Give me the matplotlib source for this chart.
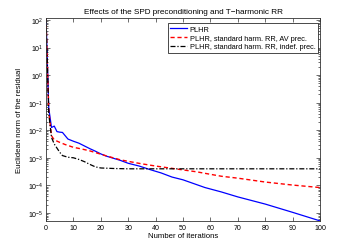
import numpy as np
import matplotlib
matplotlib.use("Agg")
import matplotlib.pyplot as plt
from matplotlib.ticker import LogLocator, FixedLocator, NullFormatter

plt.rcParams['font.family'] = ['Liberation Sans', 'DejaVu Sans']
plt.rcParams['mathtext.fontset'] = 'custom'
plt.rcParams['mathtext.rm'] = 'Liberation Sans'

# iterations and log10 of residual norm
it_blue = [0, 1, 2, 3, 4, 5, 6, 7, 8, 10, 12, 14, 16, 18, 20, 22, 25, 27, 30, 34, 38,
           42, 46, 50, 58, 64, 70, 80, 90, 100]
lg_blue = [2.07, -1.2, -1.9, -1.85, -2.05, -2.07, -2.08, -2.2, -2.32, -2.4, -2.47, -2.57,
           -2.67, -2.76, -2.86, -2.94, -3.03, -3.09, -3.2, -3.3, -3.43, -3.55, -3.7, -3.8,
           -4.08, -4.24, -4.42, -4.68, -4.98, -5.29]

it_red = [0, 1, 2, 3, 5, 7, 10, 13, 16, 19, 22, 27, 30, 35, 40, 45, 50, 55, 60, 64,
          70, 80, 90, 100]
lg_red = [2.07, -1.3, -2.2, -2.35, -2.44, -2.52, -2.62, -2.68, -2.75, -2.84, -2.93, -3.07,
          -3.13, -3.22, -3.3, -3.37, -3.44, -3.51, -3.6, -3.67, -3.74, -3.88, -3.99, -4.08]

it_black = [0, 1, 2, 3, 4, 5, 6, 8, 10, 12, 14, 16, 18, 20, 25, 30, 100]
lg_black = [2.07, -1.4, -2.26, -2.5, -2.65, -2.8, -2.92, -2.98, -3.0, -3.06, -3.14, -3.24,
            -3.33, -3.37, -3.39, -3.4, -3.4]

labels = ['PLHR', 'PLHR, standard harm. RR, AV prec.', 'PLHR, standard harm. RR, indef. prec.']
title = 'Effects of the SPD preconditioning and T\u2212harmonic RR'
xlabel = 'Number of iterations'
ylabel = 'Euclidean norm of the residual'
xticks = list(range(0, 101, 10))
yexp = list(range(-5, 3))

fig = plt.figure(figsize=(3.54, 2.51), dpi=100)
ax = fig.add_axes([0.13, 0.116, 0.774, 0.808])

ax.semilogy(it_blue, 10.0 ** np.array(lg_blue), color='#0000ff', lw=0.9, ls='-', label=labels[0])
ax.semilogy(it_red, 10.0 ** np.array(lg_red), color='#ff0000', lw=1.0, ls=(0, (3, 2)), label=labels[1])
ax.semilogy(it_black, 10.0 ** np.array(lg_black), color='black', lw=0.9, ls=(0, (4, 1.5, 1, 1.5)), label=labels[2])

ax.set_xlim(0, 100)
ax.set_ylim(10 ** -5.29, 10 ** 2.07)
ax.set_xticks(xticks)
ax.yaxis.set_major_locator(FixedLocator([10.0 ** e for e in yexp]))
ax.yaxis.set_minor_locator(LogLocator(base=10, subs=np.arange(2, 10), numticks=20))
ax.yaxis.set_minor_formatter(NullFormatter())
ax.set_yticklabels([r'$10^{%d}$' % e for e in yexp])

ax.tick_params(which='both', direction='in', top=True, right=True, labelsize=5.1, pad=2,
               width=0.5, color='#333333')
ax.tick_params(which='major', length=3)
ax.tick_params(which='minor', length=1.5)
for s in ax.spines.values():
    s.set_linewidth(0.6)
    s.set_color('#333333')

ax.set_title(title, fontsize=5.9, pad=4)
ax.set_xlabel(xlabel, fontsize=5.6, labelpad=1)
ax.set_ylabel(ylabel, fontsize=5.6, labelpad=3)

leg = ax.legend(loc='upper right', bbox_to_anchor=(318 / 354, 1 - 24 / 251),
                bbox_transform=fig.transFigure, borderaxespad=0, fontsize=5.3,
                fancybox=False, framealpha=1, edgecolor='black', handlelength=2.3,
                handletextpad=0.35, labelspacing=0.22, borderpad=0.35)
leg.get_frame().set_linewidth(0.5)

fig.savefig('out.png', dpi=100)
